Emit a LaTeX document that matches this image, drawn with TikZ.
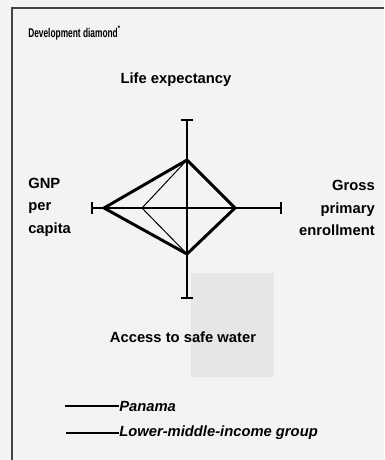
\documentclass[tikz,border=0pt]{standalone}
\usepackage{fontspec}
\setmainfont{Liberation Sans}
\usetikzlibrary{calc}

\definecolor{paper}{HTML}{F3F3F3}
\definecolor{patch}{HTML}{E6E6E6}
\definecolor{rule}{HTML}{444444}

\begin{document}
\begin{tikzpicture}[x=0.025cm, y=-0.025cm,
    lbl/.style={inner sep=0pt, font=\bfseries\fontsize{10.5}{16}\selectfont},
    ttl/.style={inner sep=0pt, font=\bfseries\fontsize{9}{10}\selectfont},
    key/.style={inner sep=0pt, font=\bfseries\itshape\fontsize{10.5}{12}\selectfont},
    axis/.style={line width=0.9pt},
    panama/.style={line width=2.1pt, line join=round},
    group/.style={line width=0.7pt, line join=round}]
    \useasboundingbox[fill=paper] (0,0) rectangle (384,460);
    \fill[patch] (191,273) rectangle (274,377);
    \draw[line width=1.4pt, rule] (12,460) |- (384,8);

    \node[ttl, anchor=west] (title) at (28,33) {\scalebox{0.66}[1]{Development diamond\textsuperscript{*}}};

    \coordinate (c) at (187,208);
    \coordinate (n) at (187,120);
    \coordinate (s) at (187,298);
    \coordinate (w) at (92,208);
    \coordinate (e) at (281,208);
    \draw[axis] (n) -- (s);
    \draw[axis] (w) -- (e);
    \foreach \p in {n,s} {
      \draw[axis] ($(\p)+(-6,0)$) -- ($(\p)+(6,0)$);
    }
    \foreach \p in {w,e} {
      \draw[axis] ($(\p)+(0,-6)$) -- ($(\p)+(0,6)$);
    }

    \coordinate (pn) at (187,160);
    \coordinate (pe) at (235,208);
    \coordinate (ps) at (187,254);
    \coordinate (pw) at (104,208);
    \coordinate (gw) at (142,208);
    \draw[group] (pn) -- (gw) -- (ps);
    \draw[panama] (pn) -- (pe) -- (ps) -- (pw) -- cycle;

    \node[lbl] (life) at (176,80) {Life expectancy};
    \node[lbl] (water) at (183,337) {Access to safe water};
    \node[lbl, anchor=west, align=left] (gnp) at (28,207) {GNP\\per\\capita};
    \node[lbl, anchor=east, align=right] (enrol) at (375,208) {Gross\\primary\\enrollment};

    \coordinate (k1) at (65,406);
    \coordinate (k2) at (66,433);
    \node[key, anchor=west] (kpan) at (119,406) {Panama};
    \node[key, anchor=west] (kgrp) at (119,433) {Lower-middle-income group};
    \draw[line width=2.1pt] (k1) -- (kpan.west);
    \draw[line width=1.2pt] (k2) -- (kgrp.west);
\end{tikzpicture}
\end{document}
